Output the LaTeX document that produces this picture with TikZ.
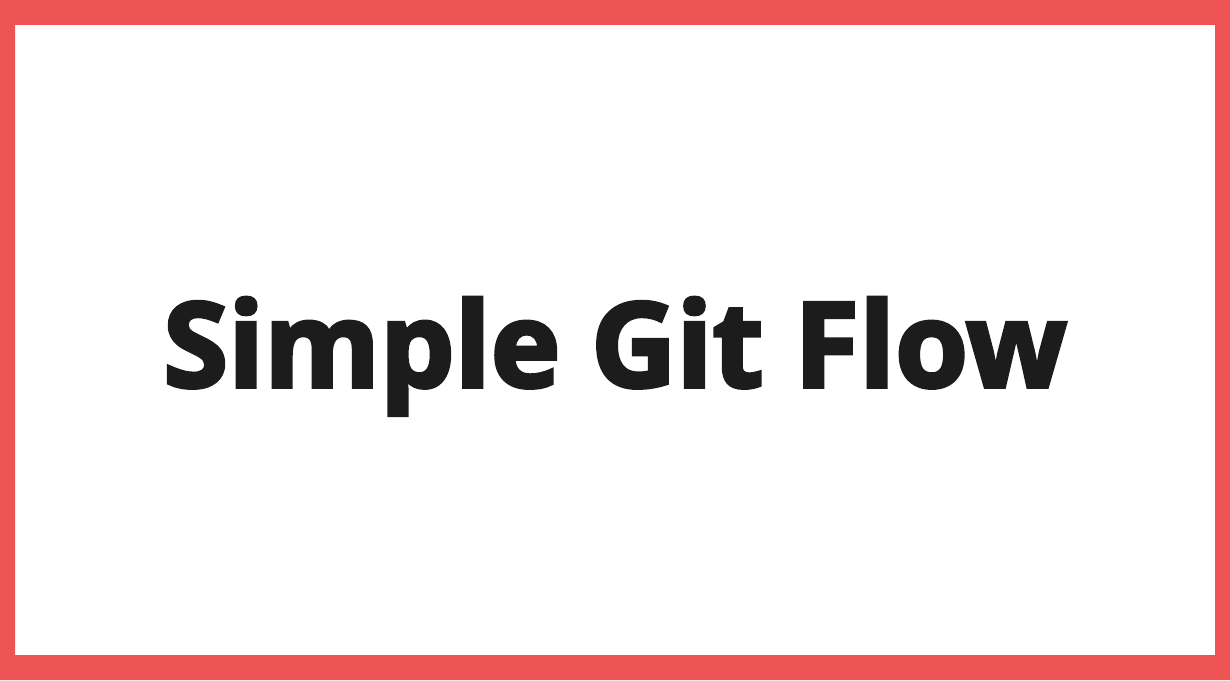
\documentclass[tikz,border=0pt]{standalone}
\usepackage{fontspec}
\setmainfont{Open Sans}[BoldFeatures={FakeBold=3}]
\usepackage{xcolor}
\usepackage{tikz}
\usetikzlibrary{positioning}
\definecolor{framered}{RGB}{239,84,85}
\definecolor{titleink}{RGB}{28,28,28}
\tikzset{
    frame/.style={
        fill=framered,
        even odd rule
    },
    titletext/.style={
        text=titleink,
        inner sep=0pt,
        anchor=base,
        font=\fontsize{118}{130}\selectfont\bfseries
    }
}
\begin{document}
\begin{tikzpicture}[x=1pt, y=1pt]

% Frame
\useasboundingbox (0,0) rectangle (1230,680);
\path[frame] (0,0) rectangle (1230,680) (15,25) rectangle (1215,655);

% Title
\node[titletext] (title) at (615,293) {Simple Git Flow};

\end{tikzpicture}
\end{document}
